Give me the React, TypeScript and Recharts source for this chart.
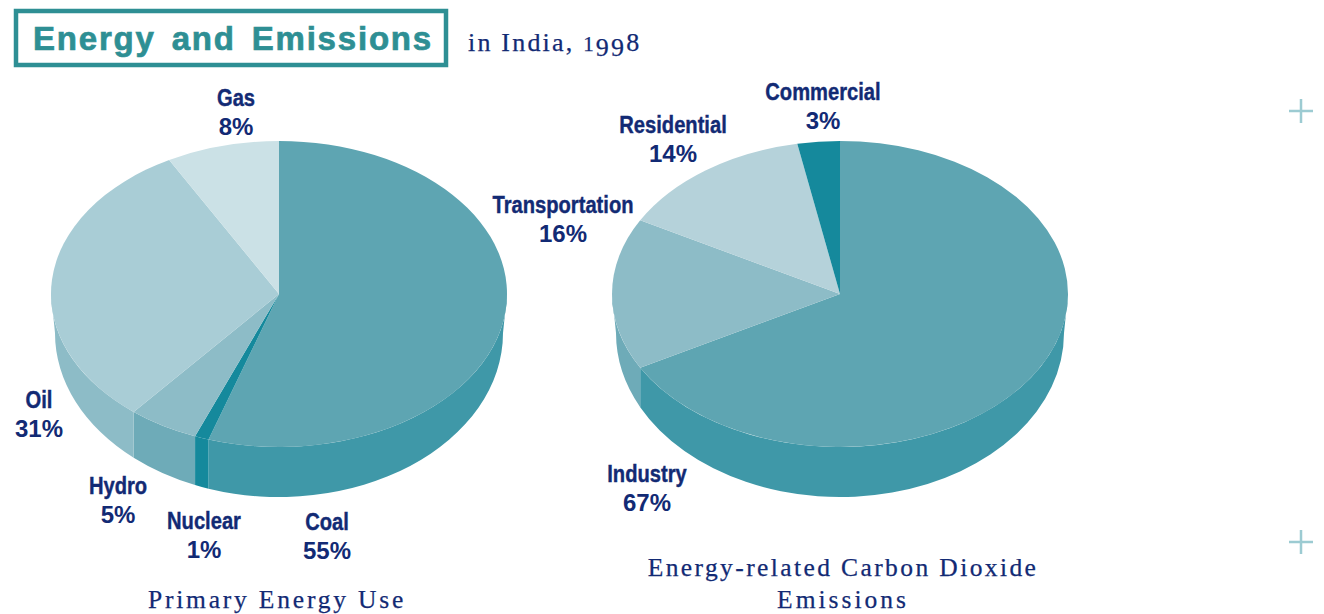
import { PieChart, Pie } from "recharts";

const energyNames = ["Coal", "Nuclear", "Hydro", "Oil", "Gas"];
const energyValues = [55, 1, 5, 31, 8];
const energyTop = ["#5EA5B2", "#15899C", "#8DBCC7", "#A9CDD6", "#CBE1E6"];
const energySide = ["#3F98A8", "#15899C", "#6EABB8", "#8DBCC7", "#CBE1E6"];

const co2Names = ["Industry", "Transportation", "Residential", "Commercial"];
const co2Values = [67, 16, 14, 3];
const co2Top = ["#5EA5B2", "#8DBCC7", "#B5D2DA", "#15899C"];
const co2Side = ["#3F98A8", "#6EABB8", "#B5D2DA", "#15899C"];

const NAVY = "#122A74";
const TEAL = "#2E8F94";
const SERIF = "'Liberation Serif', serif";
const SANS = "'Liberation Sans', sans-serif";

// the pies are tilted: y radius is squashed. The rim's lower edge is its own
// slightly narrower, deeper ellipse, so the rim gets thinner towards the sides
const SQUASH = 153 / 228;
const RIM_RX_INSET = 4;
const RIM_CY_OFFSET = 39;
const RIM_RY = 164;
const RAD = Math.PI / 180;

function px(p: any, a: number) {
  return p.cx + p.outerRadius * Math.cos(a * RAD);
}
function py(p: any, a: number) {
  return p.cy - p.outerRadius * SQUASH * Math.sin(a * RAD);
}

function TopSlice(p: any) {
  const rx = p.outerRadius;
  const ry = rx * SQUASH;
  const large = p.startAngle - p.endAngle > 180 ? 1 : 0;
  const d = `M${p.cx},${p.cy} L${px(p, p.startAngle)},${py(p, p.startAngle)} A${rx},${ry} 0 ${large} 1 ${px(p, p.endAngle)},${py(p, p.endAngle)} Z`;
  return <path d={d} fill={p.fill} stroke="none" />;
}

// point on the rim's lower ellipse straight below the top edge at this angle
function rimPoint(p: any, a: number) {
  const rx = p.outerRadius - RIM_RX_INSET;
  const dx = Math.max(-rx, Math.min(rx, px(p, a) - p.cx));
  const y = p.cy + RIM_CY_OFFSET + RIM_RY * Math.sqrt(1 - (dx / rx) ** 2);
  return `${p.cx + dx},${y}`;
}

// only the front half of the rim (0 to -180 degrees) can be seen
function SideSlice(p: any) {
  const a1 = Math.min(p.startAngle, 0);
  const a2 = Math.max(p.endAngle, -180);
  if (a1 <= a2) return <g />;
  const rx = p.outerRadius;
  const ry = rx * SQUASH;
  const d = `M${px(p, a1)},${py(p, a1)} L${rimPoint(p, a1)} A${rx - RIM_RX_INSET},${RIM_RY} 0 0 1 ${rimPoint(p, a2)} L${px(p, a2)},${py(p, a2)} A${rx},${ry} 0 0 0 ${px(p, a1)},${py(p, a1)} Z`;
  return <path d={d} fill={p.fill} stroke="none" />;
}

function toRows(names: string[], values: number[], fills: string[]) {
  return names.map((name, i) => ({ name, value: values[i], fill: fills[i] }));
}

// label anchors, same order as the series: [center x, first baseline]
const energyLabelPos = [
  [327, 530],
  [204, 529],
  [118, 494],
  [39, 408],
  [236, 106],
];
const co2LabelPos = [
  [647, 482],
  [563, 213],
  [673, 133],
  [823, 100],
];

function SliceLabels({ names, values, pos }: { names: string[]; values: number[]; pos: number[][] }) {
  return (
    <g fontFamily={SANS} fontWeight={700} fontSize={24} fill={NAVY} textAnchor="middle">
      {names.map((n, i) => (
        <g key={n}>
          {/* no condensed face is installed, so the names are narrowed by hand */}
          <text transform={`translate(${pos[i][0]},${pos[i][1]}) scale(0.84,1)`} stroke={NAVY} strokeWidth={0.4}>{n}</text>
          <text x={pos[i][0]} y={pos[i][1] + 29}>{values[i]}%</text>
        </g>
      ))}
    </g>
  );
}

function Plus({ x, y }: { x: number; y: number }) {
  return (
    <path d={`M${x - 12},${y} H${x + 12} M${x},${y - 12} V${y + 12}`} stroke="#9CCBD2" strokeWidth={2.5} fill="none" />
  );
}

export default function App() {
  return (
    <div style={{ position: "absolute", left: 0, top: 0, width: 1324, height: 614, background: "#fff" }}>
      <PieChart width={1324} height={614} margin={{ top: 0, right: 0, bottom: 0, left: 0 }}>
        <Pie data={toRows(energyNames, energyValues, energySide)} dataKey="value" cx={279} cy={294} outerRadius={228} startAngle={90} endAngle={-270} shape={SideSlice} stroke="none" isAnimationActive={false} />
        <Pie data={toRows(energyNames, energyValues, energyTop)} dataKey="value" cx={279} cy={294} outerRadius={228} startAngle={90} endAngle={-270} shape={TopSlice} stroke="none" isAnimationActive={false} />
        <Pie data={toRows(co2Names, co2Values, co2Side)} dataKey="value" cx={840} cy={294} outerRadius={228} startAngle={90} endAngle={-270} shape={SideSlice} stroke="none" isAnimationActive={false} />
        <Pie data={toRows(co2Names, co2Values, co2Top)} dataKey="value" cx={840} cy={294} outerRadius={228} startAngle={90} endAngle={-270} shape={TopSlice} stroke="none" isAnimationActive={false} />

        <rect x={16} y={11} width={430} height={54} fill="none" stroke={TEAL} strokeWidth={4.5} />
        <text x={33} y={50} fontFamily={SANS} fontWeight={700} fontSize={33} letterSpacing={1.8} wordSpacing={5} fill={TEAL} stroke={TEAL} strokeWidth={0.7}>
          Energy and Emissions
        </text>
        <text x={468} y={51} fontFamily={SERIF} fontSize={26} letterSpacing={2.2} fill={NAVY} stroke={NAVY} strokeWidth={0.25}>
          in India, <tspan fontSize={21}>1</tspan><tspan dy={5} fontSize={26}>99</tspan><tspan dy={-5}>8</tspan>
        </text>

        <SliceLabels names={energyNames} values={energyValues} pos={energyLabelPos} />
        <SliceLabels names={co2Names} values={co2Values} pos={co2LabelPos} />

        <g fontFamily={SERIF} fontSize={25.5} letterSpacing={2.4} fill={NAVY} stroke={NAVY} strokeWidth={0.25} textAnchor="middle">
          <text x={277} y={608} letterSpacing={2.8}>Primary Energy Use</text>
          <text x={843} y={576}>Energy-related Carbon Dioxide</text>
          <text x={843} y={608} letterSpacing={3}>Emissions</text>
        </g>

        <Plus x={1301} y={111} />
        <Plus x={1301} y={542} />
      </PieChart>
    </div>
  );
}
